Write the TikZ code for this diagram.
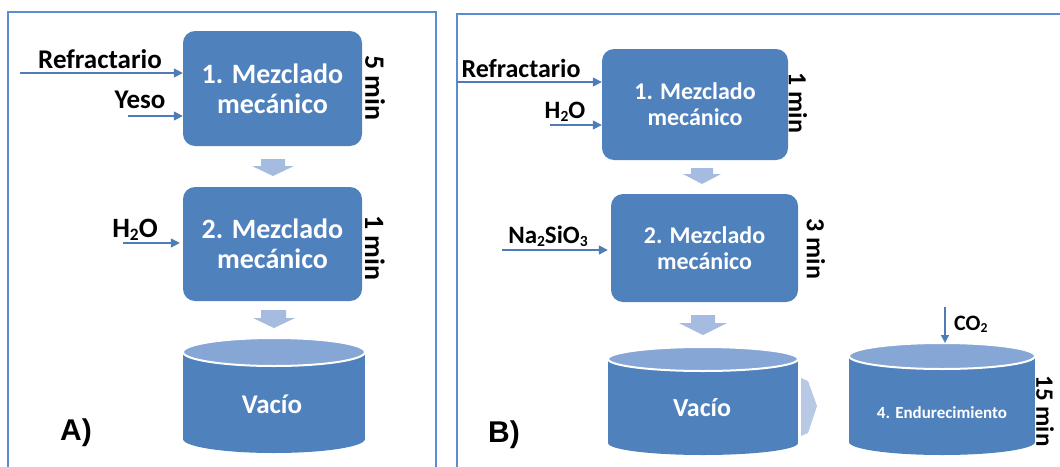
\documentclass[tikz,border=0pt]{standalone}
\usepackage{fontspec}
\setmainfont{Carlito}
\newfontfamily\labelfont{Liberation Sans}
\usetikzlibrary{arrows.meta}
\definecolor{boxblue}{HTML}{4F81BD}
\definecolor{capblue}{HTML}{86A6D6}
\definecolor{flowblue}{HTML}{A6BBE0}
\definecolor{feedblue}{HTML}{4E7DB6}
\definecolor{frameblue}{HTML}{5B8DD2}
% lowered small subscript for chemical formulas
\newcommand\chemsub[1]{\raisebox{-0.12em}{\scalebox{0.62}{#1}}}
\newcommand\fs[1]{\fontsize{#1}{#1}\selectfont}
% drum: centre x, top y, bottom y, x radius, y radius
\newcommand\mydrum[5]{%
  \fill[boxblue] (#1-#4,#2+#5) rectangle (#1+#4,#3-#5);
  \fill[boxblue] (#1,#3-#5) ellipse [x radius=#4pt, y radius=#5pt];
  \filldraw[fill=capblue, draw=white, line width=2pt] (#1,#2+#5) ellipse [x radius=#4pt, y radius=#5pt];
}
\tikzset{
  x=1pt, y=-1pt,
  stepbox/.style={fill=boxblue, rounded corners=12pt, text=white, align=center,
    font=\bfseries, inner sep=0pt},
  feed/.style={draw=feedblue, line width=1.6pt, -{Triangle[length=9pt,width=9pt]}},
  feedlabel/.style={anchor=base, font=\bfseries, inner sep=0pt},
  timelabel/.style={rotate=-90, font=\bfseries, inner sep=0pt},
  whitetext/.style={text=white, font=\bfseries, inner sep=0pt},
  frame/.style={draw=frameblue, line width=1.8pt},
  panel/.style={font=\labelfont\bfseries, anchor=base, inner sep=0pt},
}
\begin{document}
\begin{tikzpicture}
\useasboundingbox (0,0) rectangle (1060,466);
\clip (0,0) rectangle (1060,466);

% panel frames
\draw[frame] (8,470) -- (8,12) -- (436,12) -- (436,470);
\draw[frame] (457,470) -- (457,14) -- (1064,14);

% ---------------- panel A ----------------
\node[stepbox, minimum width=179pt, minimum height=115pt, font=\fs{28}\bfseries]
  (a1) at (272.5,88.5) {1. Mezclado\\[2pt]mecánico};
\node[stepbox, minimum width=179pt, minimum height=114pt, font=\fs{28}\bfseries]
  (a2) at (272.5,244) {2. Mezclado\\[2pt]mecánico};
\node[timelabel, font=\fs{28}\bfseries] (a1t) at (375,88) {5 min};
\node[timelabel, font=\fs{28}\bfseries] (a2t) at (375,248) {1 min};

\node[feedlabel, font=\fs{27}\bfseries] (refA) at (100,68) {Refractario};
\node[feedlabel, font=\fs{27}\bfseries] (yesoA) at (140,108) {Yeso};
\node[feedlabel, font=\fs{28}\bfseries] (h2oA) at (135,237) {H\chemsub{2}O};
\coordinate (refAs) at (20,73);
\coordinate (yesoAs) at (128,116);
\coordinate (h2oAs) at (123,243);
\draw[feed] (refAs) -- (refAs -| a1.west);
\draw[feed] (yesoAs) -- (yesoAs -| a1.west);
\draw[feed, shorten >=3pt] (h2oAs) -- (h2oAs -| a2.west);

% flow arrows
\fill[flowblue] (261,159) -- (285,159) -- (285,166) -- (294,166) -- (273,176) -- (252,166) -- (261,166) -- cycle;
\fill[flowblue] (261,310) -- (286,310) -- (286,318) -- (295,318) -- (274,328) -- (253,318) -- (261,318) -- cycle;

\mydrum{274}{338}{453}{91}{14}
\node[whitetext, font=\fs{27}\bfseries] (vacA) at (272,404) {Vacío};

\node[panel, font=\labelfont\bfseries\fs{30}] (labA) at (76,440) {A)};

% ---------------- panel B ----------------
\node[stepbox, minimum width=186pt, minimum height=111pt, font=\fs{24}\bfseries]
  (b1) at (695,104.5) {1. Mezclado\\[2pt]mecánico};
\node[stepbox, minimum width=187pt, minimum height=108pt, font=\fs{24}\bfseries]
  (b2) at (704.5,248) {2. Mezclado\\[2pt]mecánico};
\node[timelabel, font=\fs{26}\bfseries] (b1t) at (798,103) {1 min};
\node[timelabel, font=\fs{26}\bfseries] (b2t) at (816,249) {3 min};

\node[feedlabel, font=\fs{26}\bfseries] (refB) at (521,77) {Refractario};
\node[feedlabel, font=\fs{25}\bfseries] (h2oB) at (565,118) {H\chemsub{2}O};
\node[feedlabel, font=\fs{25}\bfseries] (naB) at (548,243) {Na\chemsub{2}SiO\chemsub{3}};
\coordinate (refBs) at (457,82);
\coordinate (h2oBs) at (550,125);
\coordinate (naBs) at (502,250);
\draw[feed] (refBs) -- (refBs -| b1.west);
\draw[feed] (h2oBs) -- (h2oBs -| b1.west);
\draw[feed, shorten >=3pt] (naBs) -- (naBs -| b2.west);

% flow arrows
\fill[flowblue] (691,168) -- (713,168) -- (713,174) -- (721,174) -- (702,184) -- (683,174) -- (691,174) -- cycle;
\fill[flowblue] (691,315) -- (715,315) -- (715,323) -- (727,323) -- (703,335) -- (679,323) -- (691,323) -- cycle;
\fill[flowblue!80!white] (801,378) -- (808,381) -- (817,406) -- (808,433) -- (801,436) -- cycle;

\mydrum{703}{347}{455}{95}{12}
\node[whitetext, font=\fs{26}\bfseries] (vacB) at (702,408) {Vacío};

\mydrum{942}{343}{455}{93}{13}
\node[whitetext, font=\fs{17}\bfseries] (endB) at (942,413) {4. Endurecimiento};
\node[timelabel, font=\fs{25}\bfseries] (endt) at (1045,411) {15 min};

\coordinate (co2s) at (945,307);
\draw[feed, -{Triangle[length=8pt,width=8pt]}, line width=1.3pt] (co2s) -- (945,343);
\node[feedlabel, font=\fs{22}\bfseries, anchor=base west] (co2) at (954,330) {CO\chemsub{2}};

\node[panel, font=\labelfont\bfseries\fs{30}] (labB) at (504,442) {B)};
\end{tikzpicture}
\end{document}
